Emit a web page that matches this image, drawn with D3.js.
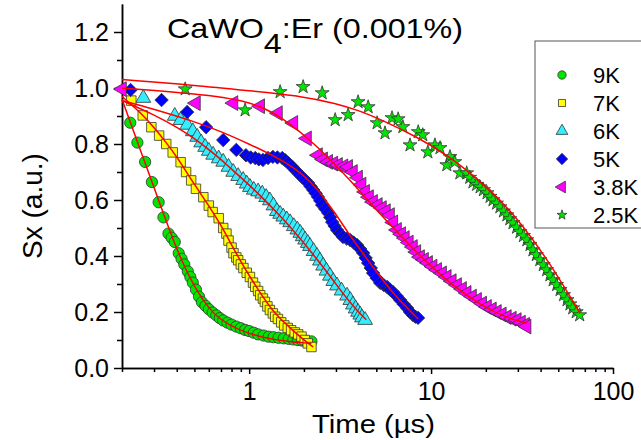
<!DOCTYPE html>
<html lang="en">
<head>
  <meta charset="UTF-8">
  <title>CaWO4:Er (0.001%) - Sx decay</title>
  <style>
    body {
      margin: 0;
      background: #fff;
      overflow: hidden;
    }
    svg {
      display: block;
      font-family: "Liberation Sans", Arial, sans-serif;
    }
    .axis path, .axis line {
      stroke: #000;
      stroke-width: 1.5px;
    }
    .axis text {
      font-size: 25px;
      fill: #000;
    }
    .fit {
      fill: none;
      stroke: #ff0000;
      stroke-width: 1.5px;
    }
    .mark {
      stroke: #333;
      stroke-width: 0.8px;
    }
  </style>
</head>
<body>
  <svg width="641" height="440"></svg>

  <script src="https://d3js.org/d3.v7.min.js"></script>
  <script>
    // measured points, [time (us), Sx]
    const s9K = [
      [0.222,0.876],[0.243,0.805],[0.268,0.736],[0.292,0.664],[0.318,0.592],[0.338,0.538],
      [0.36,0.48],[0.375,0.465],[0.39,0.45],[0.41,0.41],[0.425,0.39],[0.44,0.37],[0.46,0.345],
      [0.475,0.325],[0.49,0.305],[0.51,0.28],[0.53,0.255],[0.55,0.235],[0.575,0.222],[0.60,0.21],
      [0.63,0.198],[0.66,0.188],[0.69,0.178],[0.72,0.17],[0.76,0.162],[0.80,0.155],[0.85,0.148],
      [0.90,0.142],[0.95,0.136],[1.0,0.132],[1.06,0.126],[1.12,0.12],[1.2,0.116],[1.28,0.112],
      [1.36,0.11],[1.45,0.108],[1.55,0.106],[1.65,0.104],[1.75,0.102],[1.85,0.1],[1.95,0.098],
      [2.05,0.097],[2.2,0.095]
    ];
    const s7K = [
      [0.225,0.955],[0.26,0.902],[0.29,0.86],[0.32,0.83],[0.35,0.80],[0.38,0.77],[0.42,0.735],
      [0.45,0.70],[0.48,0.67],[0.51,0.64],[0.56,0.61],[0.60,0.58],[0.63,0.557],[0.68,0.535],
      [0.72,0.50],[0.75,0.48],[0.77,0.455],[0.80,0.43],[0.82,0.41],[0.85,0.395],[0.87,0.385],
      [0.90,0.37],[0.93,0.357],[0.97,0.34],[1.01,0.325],[1.05,0.305],[1.08,0.29],[1.12,0.275],
      [1.15,0.26],[1.19,0.248],[1.22,0.236],[1.26,0.22],[1.30,0.207],[1.35,0.195],[1.39,0.183],
      [1.44,0.175],[1.5,0.163],[1.56,0.152],[1.63,0.143],[1.7,0.135],[1.78,0.127],[1.86,0.12],
      [1.94,0.112],[2.02,0.1],[2.1,0.088],[2.2,0.075]
    ];
    const s6K = [
      [0.262,0.964],[0.39,0.90],[0.42,0.885],[0.456,0.868],[0.49,0.845],[0.518,0.825],
      [0.545,0.805],[0.573,0.789],[0.60,0.775],[0.634,0.761],[0.68,0.748],[0.72,0.736],
      [0.77,0.718],[0.817,0.70],[0.87,0.685],[0.927,0.671],[0.97,0.658],[1.01,0.646],
      [1.06,0.636],[1.12,0.63],[1.18,0.622],[1.24,0.61],[1.30,0.598],[1.36,0.58],[1.42,0.56],
      [1.48,0.55],[1.54,0.54],[1.61,0.53],[1.68,0.52],[1.76,0.506],[1.84,0.494],[1.91,0.482],
      [1.97,0.47],[2.03,0.458],[2.1,0.446],[2.16,0.435],[2.26,0.417],[2.36,0.4],[2.45,0.383],
      [2.55,0.365],[2.66,0.347],[2.78,0.329],[2.9,0.31],[3.04,0.294],[3.22,0.276],[3.45,0.258],
      [3.6,0.242],[3.72,0.226],[3.85,0.212],[3.97,0.2],[4.08,0.19],[4.17,0.18],[4.34,0.171]
    ];
    const s5K = [
      [0.223,0.993],[0.33,0.957],[0.456,0.914],[0.58,0.86],[0.72,0.814],[0.85,0.779],[0.96,0.76],
      [1.02,0.752],[1.08,0.75],[1.13,0.745],[1.19,0.743],[1.27,0.75],[1.35,0.754],[1.43,0.752],
      [1.52,0.75],[1.58,0.742],[1.64,0.732],[1.72,0.72],[1.79,0.707],[1.87,0.695],[1.95,0.682],
      [2.03,0.672],[2.11,0.661],[2.18,0.648],[2.25,0.636],[2.32,0.624],[2.39,0.611],[2.46,0.597],
      [2.52,0.582],[2.62,0.568],[2.72,0.554],[2.79,0.538],[2.86,0.521],[2.95,0.507],[3.04,0.493],
      [3.16,0.48],[3.28,0.468],[3.44,0.462],[3.59,0.457],[3.75,0.448],[3.92,0.439],[4.08,0.425],
      [4.23,0.411],[4.37,0.393],[4.51,0.375],[4.66,0.357],[4.80,0.339],[5.02,0.321],[5.25,0.304],
      [5.5,0.296],[5.74,0.289],[5.95,0.28],[6.18,0.271],[6.47,0.257],[6.76,0.243],[7.07,0.228],
      [7.39,0.214],[7.66,0.2],[7.95,0.189],[8.2,0.183],[8.48,0.179]
    ];
    const s38K = [
      [0.2,0.996],[0.51,0.946],[0.82,0.946],[1.15,0.935],[1.44,0.91],[1.75,0.875],[2.08,0.82],
      [2.39,0.76],[2.55,0.745],[2.72,0.736],[2.9,0.73],[3.08,0.725],[3.3,0.72],[3.5,0.718],
      [3.72,0.70],[3.97,0.68],[4.15,0.655],[4.34,0.629],[4.56,0.61],[4.8,0.593],[5.1,0.582],
      [5.37,0.571],[5.65,0.56],[5.95,0.546],[6.2,0.52],[6.5,0.493],[6.85,0.478],[7.18,0.464],
      [7.55,0.448],[7.95,0.432],[8.3,0.414],[8.7,0.396],[9.15,0.386],[9.63,0.375],[10.2,0.362],
      [10.8,0.35],[11.5,0.338],[12.2,0.325],[13.0,0.31],[13.9,0.296],[14.8,0.282],[15.7,0.268],
      [16.8,0.255],[17.9,0.243],[19.1,0.23],[20.3,0.218],[21.6,0.209],[23.0,0.2],[24.5,0.191],
      [26.1,0.182],[27.8,0.176],[29.6,0.171],[31.2,0.162],[32.9,0.154],[33.5,0.148]
    ];
    const s25K = [
      [0.445,0.996],[0.95,0.921],[1.48,0.986],[1.98,1.004],[2.52,0.982],[2.97,0.886],[3.5,0.904],
      [3.97,0.95],[4.51,0.932],[5.05,0.875],[5.58,0.839],[6.1,0.893],[6.59,0.889],[7.0,0.861],
      [7.66,0.796],[8.5,0.843],[9.0,0.832],[9.6,0.771],[10.5,0.796],[11.2,0.786],[12.2,0.725],
      [12.7,0.754],[13.5,0.736],[14.4,0.696],[15.7,0.696],[16.3,0.68],[17.0,0.664],[17.8,0.655],
      [18.6,0.646],[19.4,0.636],[20.3,0.625],[21.1,0.612],[21.9,0.60],[22.9,0.588],[23.9,0.575],
      [25.0,0.56],[26.1,0.546],[27.1,0.532],[28.2,0.518],[29.5,0.502],[30.8,0.486],[32.2,0.472],
      [33.6,0.457],[35.0,0.44],[36.3,0.421],[37.9,0.404],[39.6,0.386],[41.4,0.368],[43.2,0.35],
      [45.0,0.332],[46.9,0.314],[49.0,0.297],[51.2,0.279],[53.5,0.261],[55.9,0.243],[58.0,0.228],
      [60.1,0.214],[62.8,0.2],[65.6,0.189]
    ];

    // fitted curves
    const f9K = [[0.2,0.96],[0.22,0.885],[0.25,0.785],[0.3,0.645],[0.37,0.48],[0.43,0.375],[0.52,0.27],
      [0.6,0.215],[0.67,0.18],[0.86,0.136],[1.19,0.108],[1.68,0.093],[2.2,0.088]];
    const f7K = [[0.2,0.97],[0.25,0.915],[0.3,0.86],[0.35,0.805],[0.4,0.755],[0.5,0.655],[0.6,0.58],
      [0.7,0.51],[0.8,0.44],[0.9,0.38],[1.0,0.33],[1.2,0.25],[1.4,0.19],[1.7,0.14],[2.0,0.1],[2.25,0.075]];
    const f6K = [[0.2,0.955],[0.3,0.905],[0.4,0.86],[0.5,0.82],[0.6,0.78],[0.7,0.745],[0.8,0.71],
      [1.0,0.655],[1.54,0.535],[2.36,0.39],[3.0,0.3],[3.59,0.232],[4.4,0.172]];
    const f5K = [[0.2,0.955],[0.3,0.925],[0.5,0.88],[0.7,0.845],[1.0,0.80],[1.5,0.745],[2.0,0.69],
      [2.4,0.635],[3.0,0.55],[3.6,0.47],[4.5,0.385],[5.4,0.315],[6.5,0.25],[8.5,0.175]];
    const f38K = [[0.2,1.0],[0.5,0.98],[1.0,0.955],[1.5,0.9],[2.4,0.79],[3.6,0.67],[5.4,0.54],
      [8.4,0.41],[12.7,0.30],[19.3,0.22],[26,0.18],[33.5,0.16]];
    const f25K = [[0.2,1.03],[0.5,1.01],[1,0.99],[2,0.97],[3,0.945],[4,0.92],[5.4,0.885],[8.4,0.825],
      [12.7,0.755],[19.3,0.66],[29.6,0.54],[45,0.375],[66,0.195]];

    const labels = ["9K", "7K", "6K", "5K", "3.8K", "2.5K"];
    const colors = ["#00e600", "#ffff00", "#33eeff", "#0000ff", "#ff00ff", "#00e600"];
    const xMajor = [1, 10, 100];
    const xMinor = [0.2,0.3,0.4,0.5,0.6,0.7,0.8,0.9,2,3,4,5,6,7,8,9,20,30,40,50,60,70,80,90];
    const yMajor = [0, 0.2, 0.4, 0.6, 0.8, 1.0, 1.2];
    const yMinor = [0.1, 0.3, 0.5, 0.7, 0.9, 1.1];

    const series = [s9K, s7K, s6K, s5K, s38K, s25K];
    const fits = [f9K, f7K, f6K, f5K, f38K, f25K];

    // symbol per series: [type, size, rotation]
    const shapes = [
      [d3.symbolCircle, 100, 0],
      [d3.symbolSquare, 90, 0],
      [d3.symbolTriangle, 95, 0],
      [d3.symbolSquare, 90, 45],
      [d3.symbolTriangle, 95, -90],
      [d3.symbolStar, 60, 0]
    ];
    const legendShapes = [
      [d3.symbolCircle, 55, 0],
      [d3.symbolSquare, 50, 0],
      [d3.symbolTriangle, 60, 0],
      [d3.symbolSquare, 64, 45],
      [d3.symbolTriangle, 60, -90],
      [d3.symbolStar, 30, 0]
    ];

    const svg = d3.select("svg");
    const x = d3.scaleLog().domain([0.2, 100]).range([122, 613]);
    const y = d3.scaleLinear().domain([0, 1.3]).range([368, 4]);

    // axes: minor ticks first, then majors with labels
    svg.append("g").attr("class", "axis").attr("transform", "translate(0,368)")
      .call(d3.axisBottom(x).tickValues(xMinor).tickSize(4).tickSizeOuter(0).tickFormat(""));
    svg.append("g").attr("class", "axis").attr("transform", "translate(0,368)")
      .call(d3.axisBottom(x).tickValues(xMajor).tickSize(6).tickSizeOuter(0).tickPadding(8)
        .tickFormat(d3.format("d")));
    svg.append("g").attr("class", "axis").attr("transform", "translate(122,0)")
      .call(d3.axisLeft(y).tickValues(yMinor).tickSize(5).tickSizeOuter(0).tickFormat(""));
    svg.append("g").attr("class", "axis").attr("transform", "translate(122,0)")
      .call(d3.axisLeft(y).tickValues(yMajor).tickSize(8).tickSizeOuter(0).tickPadding(5)
        .tickFormat(d3.format(".1f")));
    svg.selectAll(".axis text").attr("font-family", "'Liberation Sans', Arial, sans-serif");

    // data markers
    series.forEach((pts, i) => {
      const [type, size, rot] = shapes[i];
      const sym = d3.symbol().type(type).size(size);
      svg.append("g").selectAll("path")
        .data(pts)
        .join("path")
        .attr("class", "mark")
        .attr("d", sym)
        .attr("fill", colors[i])
        .attr("transform", d => `translate(${x(d[0])},${y(d[1])}) rotate(${rot})`);
    });

    // fit lines on top
    const line = d3.line().x(d => x(d[0])).y(d => y(d[1])).curve(d3.curveBasis);
    svg.append("g").selectAll("path")
      .data(fits)
      .join("path")
      .attr("class", "fit")
      .attr("d", line);

    // legend
    const legend = svg.append("g");
    legend.append("rect")
      .attr("x", 535).attr("y", 41).attr("width", 120).attr("height", 187)
      .attr("fill", "#fff").attr("stroke", "#555").attr("stroke-width", 1);
    labels.forEach((lab, i) => {
      const cy = 75 + i * 28;
      const [type, size, rot] = legendShapes[i];
      legend.append("path")
        .attr("class", "mark")
        .attr("d", d3.symbol().type(type).size(size)())
        .attr("fill", colors[i])
        .attr("transform", `translate(562,${cy}) rotate(${rot})`);
      legend.append("text")
        .attr("x", 593).attr("y", cy + 8)
        .attr("font-size", 22)
        .text(lab);
    });

    // title
    const title = svg.append("text")
      .attr("x", 167).attr("y", 38)
      .attr("font-size", 28)
      .attr("textLength", 296)
      .attr("lengthAdjust", "spacingAndGlyphs");
    title.append("tspan").text("CaWO");
    title.append("tspan").attr("dy", 15).text("4");
    title.append("tspan").attr("dy", -15).text(":Er (0.001%)");

    // axis titles
    svg.append("text")
      .attr("x", 312).attr("y", 433)
      .attr("font-size", 26)
      .attr("textLength", 123)
      .attr("lengthAdjust", "spacingAndGlyphs")
      .text("Time (\u00b5s)");
    svg.append("text")
      .attr("transform", "translate(42,206) rotate(-90)")
      .attr("text-anchor", "middle")
      .attr("font-size", 28)
      .text("Sx (a.u.)");
  </script>
</body>
</html>
